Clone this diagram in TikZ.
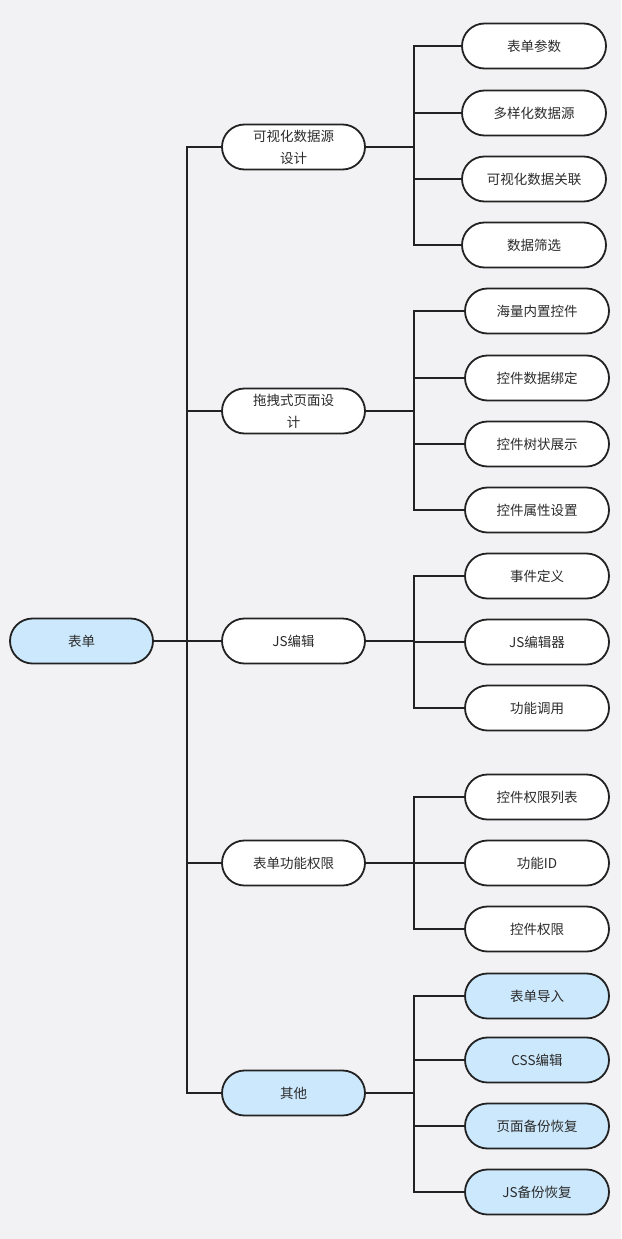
\documentclass[tikz,border=0pt]{standalone}
\usepackage{fontspec}
\setmainfont{Noto Sans CJK SC}
\definecolor{bg}{HTML}{F2F2F4}
\definecolor{lblue}{HTML}{CCE8FC}
\definecolor{ln}{HTML}{222222}
\definecolor{tx}{HTML}{2B2B2B}
\begin{document}
\begin{tikzpicture}[x=1pt,y=-1pt,
  box/.style={draw=ln,line width=1.8pt,fill=white,rounded corners=22.5pt,minimum height=45pt,inner sep=0pt,align=center,text=tx,font=\fontsize{13.5}{22}\selectfont},
  lone/.style={box,minimum width=143pt},
  ltwo/.style={box,minimum width=144pt},
  blue/.style={fill=lblue},
  conn/.style={draw=ln,line width=1.6pt}]
\fill[bg] (0,0) rectangle (621,1239);
\useasboundingbox (0,0) rectangle (621,1239);
% root
\node[lone,blue] (root) at (81.5,641) {表单};
% level 1
\node[lone] (p1) at (293.5,147) {可视化数据源\\设计};
\node[lone] (p2) at (293.5,411) {拖拽式页面设\\计};
\node[lone] (p3) at (293.5,641) {JS编辑};
\node[lone] (p4) at (293.5,863) {表单功能权限};
\node[lone,blue] (p5) at (293.5,1093) {其他};
% level 2
\node[ltwo] (c11) at (534,46) {表单参数};
\node[ltwo] (c12) at (534,113) {多样化数据源};
\node[ltwo] (c13) at (534,179) {可视化数据关联};
\node[ltwo] (c14) at (534,245) {数据筛选};
\node[ltwo] (c21) at (537,311) {海量内置控件};
\node[ltwo] (c22) at (537,378) {控件数据绑定};
\node[ltwo] (c23) at (537,444) {控件树状展示};
\node[ltwo] (c24) at (537,510) {控件属性设置};
\node[ltwo] (c31) at (537,576) {事件定义};
\node[ltwo] (c32) at (537,642) {JS编辑器};
\node[ltwo] (c33) at (537,708) {功能调用};
\node[ltwo] (c41) at (537,797) {控件权限列表};
\node[ltwo] (c42) at (537,863) {功能ID};
\node[ltwo] (c43) at (537,929) {控件权限};
\node[ltwo,blue] (c51) at (537,996) {表单导入};
\node[ltwo,blue] (c52) at (537,1060) {CSS编辑};
\node[ltwo,blue] (c53) at (537,1126) {页面备份恢复};
\node[ltwo,blue] (c54) at (537,1192) {JS备份恢复};
% bus positions
\coordinate (t) at (187,0);
\coordinate (b) at (414,0);
\foreach \p in {p1,p2,p3,p4,p5}
  \draw[conn] (root.east) -- (t |- root.east) |- (\p.west);
\foreach \c in {c11,c12,c13,c14}
  \draw[conn] (p1.east) -- (b |- p1.east) |- (\c.west);
\foreach \c in {c21,c22,c23,c24}
  \draw[conn] (p2.east) -- (b |- p2.east) |- (\c.west);
\foreach \c in {c31,c32,c33}
  \draw[conn] (p3.east) -- (b |- p3.east) |- (\c.west);
\foreach \c in {c41,c42,c43}
  \draw[conn] (p4.east) -- (b |- p4.east) |- (\c.west);
\foreach \c in {c51,c52,c53,c54}
  \draw[conn] (p5.east) -- (b |- p5.east) |- (\c.west);
\end{tikzpicture}
\end{document}
